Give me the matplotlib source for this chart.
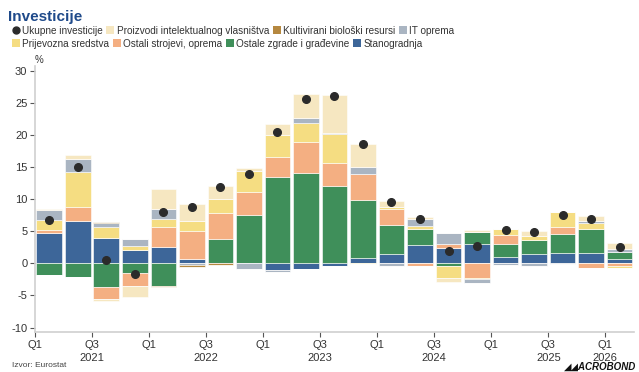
import numpy as np
import matplotlib
matplotlib.use("Agg")
import matplotlib.pyplot as plt
from matplotlib.lines import Line2D
from matplotlib.patches import Patch

plt.rcParams["font.family"] = ["Liberation Sans", "DejaVu Sans"]

# ── podaci: kvartali Q1 2021 – Q1 2026, doprinosi (p.p.) ──────────────────
quarters = ["Q1 2021", "Q2 2021", "Q3 2021", "Q4 2021",
            "Q1 2022", "Q2 2022", "Q3 2022", "Q4 2022",
            "Q1 2023", "Q2 2023", "Q3 2023", "Q4 2023",
            "Q1 2024", "Q2 2024", "Q3 2024", "Q4 2024",
            "Q1 2025", "Q2 2025", "Q3 2025", "Q4 2025",
            "Q1 2026"]

stanogradnja = [4.8, 6.6, 4.0, 2.1, 2.5, 0.75, 0.0, 0.0, -1.1, -0.8, -0.4, 0.8,
                1.5, 2.8, 2.45, 3.0, 1.05, 1.45, 1.55, 1.7, 0.62]
zgrade = [-1.8, -2.05, -3.75, -1.5, -3.45, 0.0, 3.85, 7.6, 13.5, 14.15, 12.05, 9.1,
          4.45, 2.6, -0.4, 1.95, 1.95, 2.2, 3.05, 3.7, 1.2]
strojevi = [0.4, 2.25, -1.75, -1.95, 3.25, 4.35, 4.05, 3.6, 3.1, 4.75, 3.6, 4.0,
            2.6, -0.35, 0.6, -2.2, 1.45, 0.0, 1.1, -0.75, -0.36]
prijevozna = [1.5, 5.4, 1.65, 0.6, 1.25, 1.45, 2.15, 3.2, 3.45, 2.95, 4.5, -0.15,
              0.25, 0.45, -1.8, -0.3, 0.9, 0.6, 2.25, 0.93, -0.3]
it_oprema = [1.6, 2.0, 0.7, 1.05, 1.45, -0.25, 0.0, -0.9, -0.25, 0.85, 0.2, 1.1,
             -0.35, 1.05, 1.75, -0.5, -0.2, -0.35, -0.15, 0.32, 0.5]
kultivirani = [0.1, 0.1, 0.1, 0.0, -0.2, -0.25, -0.25, 0.0, 0.0, 0.0, 0.0, 0.0,
               0.0, 0.0, 0.0, 0.0, 0.0, 0.0, 0.0, 0.0, 0.0]
ipp = [0.1, 0.6, -0.4, -1.75, 3.2, 2.65, 2.0, 0.5, 1.75, 3.7, 6.0, 3.6,
       0.95, 0.35, -0.75, 0.3, 0.1, 0.8, 0.1, 0.75, 0.83]
ukupno = [6.7, 15.0, 0.5, -1.7, 8.0, 8.8, 11.9, 14.0, 20.5, 25.6, 26.1, 18.6,
          9.6, 7.0, 1.9, 2.7, 5.2, 4.9, 7.5, 7.0, 2.5]

# redoslijed slaganja od nule prema van
SERIES = [
    ("Stanogradnja", stanogradnja, "#3D6699"),
    ("Ostale zgrade i građevine", zgrade, "#3F8F5A"),
    ("Ostali strojevi, oprema", strojevi, "#F4AF82"),
    ("Prijevozna sredstva", prijevozna, "#F5DD82"),
    ("IT oprema", it_oprema, "#AAB5C2"),
    ("Kultivirani biološki resursi", kultivirani, "#B5883F"),
    ("Proizvodi intelektualnog vlasništva", ipp, "#F6E7C1"),
]

fig = plt.figure(figsize=(6.39, 3.72), dpi=100)
ax = fig.add_axes([0.0548, 0.1075, 0.9372, 0.715])

x = np.arange(len(quarters)) + 0.5
pos_base = np.zeros(len(quarters))
neg_base = np.zeros(len(quarters))
for name, vals, col in SERIES:
    v = np.array(vals, dtype=float)
    pos = np.where(v > 0, v, 0)
    neg = np.where(v < 0, v, 0)
    ax.bar(x, pos, 0.9, bottom=pos_base, color=col, edgecolor="white",
           linewidth=0.4, zorder=2)
    ax.bar(x, neg, 0.9, bottom=neg_base, color=col, edgecolor="white",
           linewidth=0.4, zorder=2)
    pos_base += pos
    neg_base += neg

ax.plot(x, ukupno, "o", color="#2B2B2B", markersize=5.5, zorder=4)

ax.set_xlim(0, len(quarters))
ax.set_ylim(-10.7, 30.8)
ax.set_yticks(np.arange(-10, 31, 5))
ax.set_yticklabels([str(t) for t in range(-10, 31, 5)])

tick_pos = np.arange(0, len(quarters), 2)
tick_lbl = []
for i in tick_pos:
    q, y = quarters[i].split()
    tick_lbl.append(f"{q}\n{y}" if q == "Q3" or y == "2026" else q)
ax.set_xticks(tick_pos)
ax.set_xticklabels(tick_lbl, linespacing=1.45)

for s in ["top", "right"]:
    ax.spines[s].set_visible(False)
for s in ["left", "bottom"]:
    ax.spines[s].set_color("#D0D0D0")
    ax.spines[s].set_linewidth(1.2)
ax.tick_params(axis="both", colors="#555555", labelsize=8, length=3.5,
               width=0.8, labelcolor="#333333")
ax.tick_params(axis="y", pad=2)
ax.tick_params(axis="x", pad=2)

ax.text(0.0, 1.005, "%", transform=ax.transAxes, fontsize=7,
        color="#333333", ha="left", va="bottom")

# naslov i legenda
fig.text(0.013, 0.955, "Investicije", fontsize=11, fontweight="bold",
         color="#1F4A8A", ha="left", va="center")

def sq(col):
    return Patch(facecolor=col, edgecolor="none")

row1 = [Line2D([], [], marker="o", linestyle="none", color="#2B2B2B", markersize=5),
        sq("#F6E7C1"), sq("#B5883F"), sq("#AAB5C2")]
row1_lbl = ["Ukupne investicije", "Proizvodi intelektualnog vlasništva",
            "Kultivirani biološki resursi", "IT oprema"]
row2 = [sq("#F5DD82"), sq("#F4AF82"), sq("#3F8F5A"), sq("#3D6699")]
row2_lbl = ["Prijevozna sredstva", "Ostali strojevi, oprema",
            "Ostale zgrade i građevine", "Stanogradnja"]

leg_kw = dict(ncol=4, frameon=False, fontsize=7.2, handlelength=0.8,
              handleheight=0.8, handletextpad=0.25, columnspacing=0.35,
              borderaxespad=0, borderpad=0, labelcolor="#333333")
fig.legend(row1, row1_lbl, loc="center left", bbox_to_anchor=(0.018, 0.918), **leg_kw)
fig.legend(row2, row2_lbl, loc="center left", bbox_to_anchor=(0.018, 0.883), **leg_kw)

fig.text(0.018, 0.008, "Izvor: Eurostat", fontsize=6, color="#444444",
         ha="left", va="bottom")
fig.text(0.995, 0.0, "◢◢ACROBOND", fontsize=7, fontweight="bold",
         fontstyle="italic", color="#111111", ha="right", va="bottom")

fig.savefig("out.png", dpi=100, facecolor="white")
